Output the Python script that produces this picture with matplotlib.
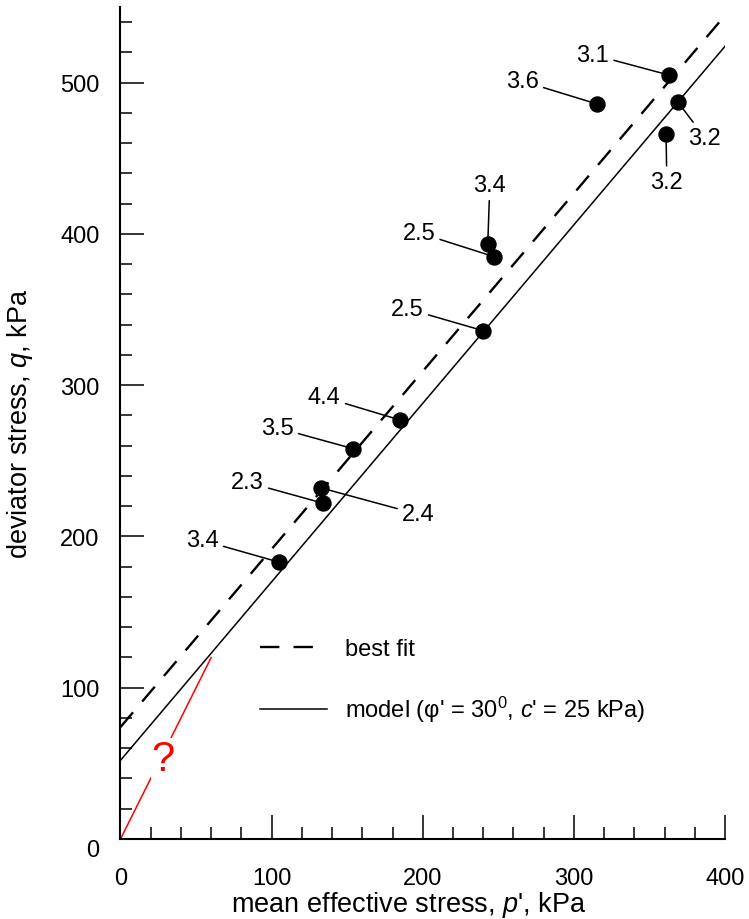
import matplotlib
matplotlib.use("Agg")
import matplotlib.pyplot as plt
from matplotlib.lines import Line2D
import numpy as np

plt.rcParams['font.family'] = ['Liberation Sans', 'DejaVu Sans']
plt.rcParams['mathtext.fontset'] = 'custom'
plt.rcParams['mathtext.rm'] = 'Liberation Sans'
plt.rcParams['mathtext.it'] = 'Liberation Sans:italic'

# ---- data ----
p_pts = [363, 315, 369, 361, 243, 247, 240, 185, 154, 133, 134, 105]
q_pts = [505, 486, 487, 466, 393, 385, 336, 277, 258, 232, 222, 183]
pt_labels = ['3.1', '3.6', '3.2', '3.2', '3.4', '2.5', '2.5', '4.4', '3.5', '2.4', '2.3', '3.4']
label_p = [312.5, 265.9, 386.6, 361.5, 244.4, 197.4, 189.8, 134.9, 103.8, 197.1, 84.0, 54.2]
label_q = [518.5, 501.0, 463.6, 434.5, 432.5, 400.8, 350.5, 292.0, 271.8, 214.6, 235.8, 197.4]

fit_slope, fit_intercept = 1.176, 74.0      # best fit
model_slope, model_intercept = 1.18, 52.0   # model (phi'=30, c'=25 kPa)
line_p = [0, 400]

red_p = [0, 60]
red_q = [0, 120]

xticks = [0, 100, 200, 300, 400]
yticks = [0, 100, 200, 300, 400, 500]

FS = 17
FS_LAB = 19.5

fig = plt.figure(figsize=(7.49, 9.20), dpi=100)
ax = fig.add_axes([120.5 / 749, 80 / 920, 604.5 / 749, 832 / 920])

fit_q = [fit_intercept + fit_slope * p for p in line_p]
mod_q = [model_intercept + model_slope * p for p in line_p]
lw_d = 1.7
ax.plot(line_p, fit_q, color='black', lw=lw_d, dashes=(8.2, 6.0), zorder=2)
ax.plot(line_p, mod_q, color='black', lw=1.1, zorder=2)

ax.plot(red_p, red_q, color='red', lw=1.1, zorder=2)
ax.text(28.1, 52.9, '?', color='red', fontsize=30, ha='center', va='center',
        bbox=dict(facecolor='white', edgecolor='none', pad=0.5), zorder=3)

ax.plot(p_pts, q_pts, 'o', color='black', ms=10.8, zorder=5, linestyle='none')

for lab, px, qy, tp, tq in zip(pt_labels, p_pts, q_pts, label_p, label_q):
    ax.annotate(lab, xy=(px, qy), xytext=(tp, tq), textcoords='data',
                ha='center', va='center', fontsize=FS,
                arrowprops=dict(arrowstyle='-', color='black', lw=1.1,
                                shrinkA=1.5, shrinkB=0), zorder=4)

ax.set_xlim(0, 400)
ax.set_ylim(0, 550)
ax.set_xticks(xticks)
ax.set_yticks(yticks)
ax.set_xticks(np.arange(0, 401, 20), minor=True)
ax.set_yticks(np.arange(0, 551, 20), minor=True)
ax.tick_params(which='both', direction='in', width=1.1, color='black')
ax.tick_params(which='major', length=17.3, labelsize=FS)
ax.tick_params(axis='x', which='major', pad=20)
ax.tick_params(axis='y', which='major', pad=15)
ax.tick_params(which='minor', length=8.6)
for s in ['top', 'right']:
    ax.spines[s].set_visible(False)
for s in ['left', 'bottom']:
    ax.spines[s].set_linewidth(1.5)

ylabs = ax.get_yticklabels()
ylabs[0].set_va('top')

ax.set_xlabel("mean effective stress, $\\it{p}$', kPa", fontsize=FS_LAB)
ax.set_ylabel("deviator stress, $\\it{q}$, kPa", fontsize=FS_LAB)
ax.xaxis.set_label_coords(0.4764, -0.060)
ax.xaxis.label.set_va('top')
ax.yaxis.set_label_coords(-0.141, 0.5)

h_fit = Line2D([], [], color='black', lw=lw_d, dashes=(8.2, 6.0, 8.2, 6.6))
h_mod = Line2D([], [], color='black', lw=1.1)
ax.legend([h_fit, h_mod],
          ['best fit', "model (\u03c6' = 30$^{0}$, $\\it{c}$' = 25 kPa)"],
          loc='upper left', bbox_to_anchor=(0.2308, 0.2416), frameon=False,
          fontsize=FS, handlelength=2.84, handletextpad=0.76,
          labelspacing=1.45, borderpad=0, borderaxespad=0)

fig.savefig('out.png', dpi=100)
